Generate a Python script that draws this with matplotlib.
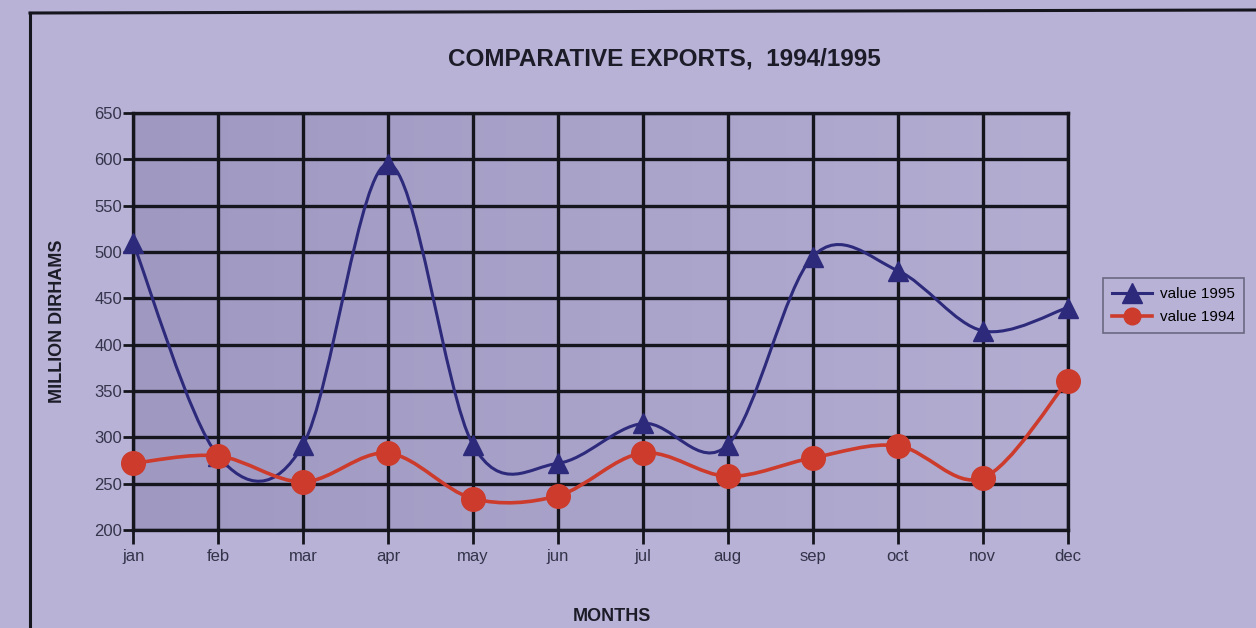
import numpy as np
import matplotlib
matplotlib.use('Agg')
import matplotlib.pyplot as plt
from matplotlib.path import Path
from matplotlib.patches import PathPatch
from matplotlib.lines import Line2D
from matplotlib.colors import LinearSegmentedColormap

months = ['jan', 'feb', 'mar', 'apr', 'may', 'jun', 'jul', 'aug', 'sep', 'oct', 'nov', 'dec']
value_1995 = [510, 280, 292, 595, 292, 272, 315, 292, 495, 480, 415, 440]
value_1994 = [272, 280, 252, 283, 234, 237, 283, 258, 278, 291, 256, 361]
y_ticks = [200, 250, 300, 350, 400, 450, 500, 550, 600, 650]

paper = '#b8b2d6'
blue = '#2d2a7c'
red = '#cc3b2b'
ink = '#15151d'

plt.rcParams['font.family'] = ['Liberation Sans', 'DejaVu Sans']


def smooth_path(xs, ys):
    # catmull-rom through the points, drawn as cubic beziers
    pts = np.column_stack([xs, ys]).astype(float)
    n = len(pts)
    verts = [pts[0]]
    codes = [Path.MOVETO]
    for i in range(n - 1):
        p0 = pts[max(i - 1, 0)]
        p1 = pts[i]
        p2 = pts[i + 1]
        p3 = pts[min(i + 2, n - 1)]
        c1 = p1 + (p2 - p0) / 6.0
        c2 = p2 - (p3 - p1) / 6.0
        verts += [c1, c2, p2]
        codes += [Path.CURVE4] * 3
    return Path(verts, codes)


fig = plt.figure(figsize=(12.56, 6.28), dpi=100, facecolor=paper)
ax = fig.add_axes([0.106, 0.156, 0.744, 0.664])
ax.set_facecolor(paper)

x = np.arange(len(months))
ax.set_xlim(0, len(months) - 1)
ax.set_ylim(200, 650)

# shaded plot area, darker on the left
grad = np.linspace(0, 1, 256).reshape(1, -1)
shade = LinearSegmentedColormap.from_list('shade', ['#9f99c2', '#b3add2'])
ax.imshow(grad, extent=(0, len(months) - 1, 200, 650), aspect='auto', cmap=shade, zorder=0)

ax.set_xticks(x)
ax.set_xticklabels(months, fontsize=12, color='#33334a')
ax.set_yticks(y_ticks)
ax.set_yticklabels([str(v) for v in y_ticks], fontsize=12, color='#33334a')
ax.grid(True, color=ink, linewidth=2.4, zorder=1)
ax.tick_params(axis='x', length=10, width=2, color=ink, pad=4)
ax.tick_params(axis='y', length=7, width=2, color=ink, pad=1)
for s in ax.spines.values():
    s.set_color(ink)
    s.set_linewidth(2.4)
ax.set_axisbelow(False)

ax.add_patch(PathPatch(smooth_path(x, value_1995), fill=False, edgecolor=blue, linewidth=2.2, zorder=3))
ax.plot(x, value_1995, linestyle='none', marker='^', markersize=15, color=blue, zorder=4, clip_on=False)
ax.add_patch(PathPatch(smooth_path(x, value_1994), fill=False, edgecolor=red, linewidth=2.6, zorder=5))
ax.plot(x, value_1994, linestyle='none', marker='o', markersize=17, color=red, zorder=6, clip_on=False)

ax.set_title('COMPARATIVE EXPORTS,  1994/1995', fontsize=17.5, fontweight='bold', color='#1c1c28',
             pad=34, x=0.568)
ax.set_ylabel('MILLION DIRHAMS', fontsize=13, fontweight='bold', color='#1c1c28', labelpad=20)
ax.set_xlabel('MONTHS', fontsize=13, fontweight='bold', color='#1c1c28', labelpad=31, x=0.512)

handles = [
    Line2D([], [], color=blue, marker='^', markersize=14, linewidth=2.2),
    Line2D([], [], color=red, marker='o', markersize=12, linewidth=2.6),
]
leg = ax.legend(handles, ['value 1995', 'value 1994'], loc='upper left', bbox_to_anchor=(1.038, 0.605),
                fontsize=11, frameon=True, fancybox=False, handlelength=2.6, handletextpad=0.5,
                borderpad=0.6, labelspacing=0.6, borderaxespad=0.0,
                edgecolor='#55556a', facecolor=paper)
leg.get_frame().set_linewidth(1.2)

# page frame lines of the printed sheet
fig.add_artist(Line2D([30 / 1256, 1.0], [1 - 13 / 628, 1 - 10 / 628], color=ink, linewidth=2.2))
fig.add_artist(Line2D([30 / 1256, 30 / 1256], [0.0, 1 - 13 / 628], color=ink, linewidth=2.2))

fig.savefig('out.png', dpi=100, facecolor=paper)
